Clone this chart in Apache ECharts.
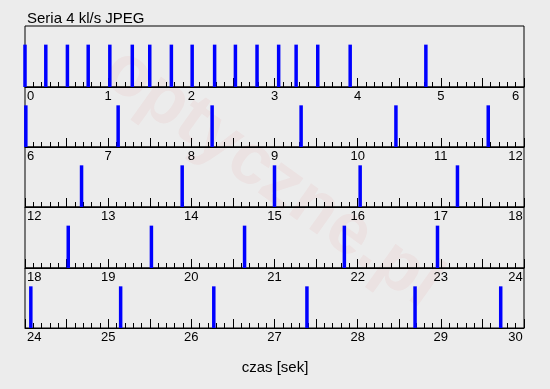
<!DOCTYPE html>
<html>
<head>
<meta charset="utf-8">
<script src="https://cdn.jsdelivr.net/npm/echarts@6/dist/echarts.min.js"></script>
<style>
html,body{margin:0;padding:0;background:#ececec;}
#c{width:550px;height:389px;}
</style>
</head>
<body>
<div id="c"></div>
<script>
// Data (seconds at which frames were captured), one array per row of the chart
var rowStarts = [0, 6, 12, 18, 24];
var row1Times = [0.00, 0.25, 0.51, 0.76, 1.02, 1.29, 1.50, 1.76, 2.01, 2.28, 2.53, 2.79, 3.05, 3.26, 3.52, 3.91, 4.82];
var row2Times = [6.01, 7.12, 8.25, 9.32, 10.46, 11.57];
var row3Times = [12.68, 13.89, 15.00, 16.03, 17.20];
var row4Times = [18.52, 19.52, 20.64, 21.84, 22.96];
var row5Times = [24.07, 25.15, 26.27, 27.39, 28.69, 29.72];
var rowSpan = 6;
var titleText = 'Seria 4 kl/s JPEG';
var xAxisName = 'czas [sek]';

var rows = [row1Times, row2Times, row3Times, row4Times, row5Times];
var gridTops = [26, 87, 147, 207, 268];
var gridHeights = [61, 60, 60, 61, 60];
var FONT = 'Liberation Sans, Arial, sans-serif';

var grids = [], xAxes = [], yAxes = [], series = [];
rows.forEach(function (times, i) {
  var t0 = rowStarts[i], t1 = t0 + rowSpan;
  grids.push({
    left: 25, width: 499, top: gridTops[i], height: gridHeights[i],
    show: true, borderColor: '#000', borderWidth: 1, backgroundColor: 'transparent'
  });
  xAxes.push({
    type: 'value', gridIndex: i, min: t0, max: t1, interval: 0.5,
    axisLine: {show: true, onZero: false, lineStyle: {color: '#000', width: 1}},
    axisTick: {show: true, inside: true, length: 9, lineStyle: {color: '#000', width: 1}},
    minorTick: {show: true, splitNumber: 5, length: 5, lineStyle: {color: '#000', width: 1}},
    splitLine: {show: false},
    minorSplitLine: {show: false},
    axisLabel: {
      show: true, color: '#000', fontSize: 13, fontFamily: FONT, margin: 3,
      alignMinLabel: 'left', alignMaxLabel: 'center',
      showMinLabel: true, showMaxLabel: true, hideOverlap: false,
      formatter: function (v) {
        if (Math.abs(v - Math.round(v)) > 1e-6) return '';
        var s = String(Math.round(v));
        if (Math.abs(v - t1) < 1e-6) return '{m|' + s + '}';
        if (Math.abs(v - t0) < 1e-6) return '{l|' + s + '}';
        return s;
      },
      rich: {
        m: {fontSize: 13, fontFamily: FONT, color: '#000', padding: [0, 17, 0, 0]},
        l: {fontSize: 13, fontFamily: FONT, color: '#000', padding: [0, 0, 0, 2]}
      }
    }
  });
  yAxes.push({
    type: 'value', gridIndex: i, min: 0, max: 1.44, show: false,
    splitLine: {show: false}
  });
  series.push({
    type: 'bar', xAxisIndex: i, yAxisIndex: i, barWidth: 3.5, clip: false,
    itemStyle: {color: '#0000ff'},
    silent: true, animation: false,
    data: times.map(function (t) { return [t, 1]; })
  });
});

var chart = echarts.init(document.getElementById('c'), null, {renderer: 'canvas'});
chart.setOption({
  backgroundColor: '#ececec',
  animation: false,
  title: {
    text: titleText, left: 27, top: 11, padding: 0,
    textStyle: {fontSize: 15, fontWeight: 'normal', color: '#000', fontFamily: FONT}
  },
  graphic: [
    {
      type: 'text', z: -10, silent: true,
      position: [272, 178], rotation: -0.62,
      style: {
        text: 'optyczne.pl', fontSize: 72, fontWeight: 'bold', fontFamily: FONT,
        fill: 'rgba(225,30,30,0.045)', textAlign: 'center', textVerticalAlign: 'middle'
      }
    },
    {
      type: 'text', silent: true, position: [275, 368],
      style: {
        text: xAxisName, fontSize: 15, fontFamily: FONT, fill: '#000',
        textAlign: 'center', textVerticalAlign: 'middle'
      }
    }
  ],
  grid: grids,
  xAxis: xAxes,
  yAxis: yAxes,
  series: series
});
</script>
</body>
</html>
